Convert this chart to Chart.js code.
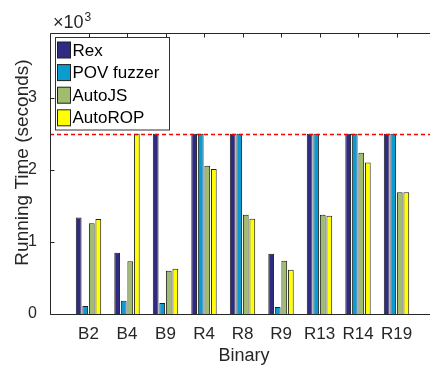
<!DOCTYPE html>
<html>
<head>
<meta charset="utf-8">
<script src="https://cdn.jsdelivr.net/npm/chart.js@4"></script>
<style>
  html, body { margin: 0; padding: 0; background: #fff; overflow: hidden; }
  #wrap { width: 430px; height: 370px; overflow: hidden; }
  canvas { display: block; }
</style>
</head>
<body>
<div id="wrap"><canvas id="runChart" width="440" height="370"></canvas></div>
<script>
// running time per binary, seconds (2500 = time limit hit)
const binaries = ['B2', 'B4', 'B9', 'R4', 'R8', 'R9', 'R13', 'R14', 'R19'];
const rexTime = [1340, 850, 2500, 2500, 2500, 836, 2500, 2500, 2500];
const povTime = [111, 185, 153, 2500, 2500, 98, 2500, 2500, 2500];
const autoJsTime = [1260, 733, 600, 2056, 1379, 738, 1379, 2237, 1690];
const autoRopTime = [1320, 2500, 627, 2014, 1323, 613, 1365, 2103, 1690];
const seriesNames = ['Rex', 'POV fuzzer', 'AutoJS', 'AutoROP'];
const seriesColors = ['#2f2a82', '#0c9bd0', '#a0bd6e', '#ffff00'];
const timeLimit = 2500;
const yTickValues = [0, 1000, 2000, 3000];
const yMax = 3900;

const FONT = "'Liberation Sans', Arial, Helvetica, sans-serif";
const INK = '#262626';

// pad the category axis by one empty slot on each side (like xlim [0 10])
const labels = [''].concat(binaries, ['']);
const pad = arr => [null].concat(arr, [null]);

const allSeries = [rexTime, povTime, autoJsTime, autoRopTime];
const datasets = allSeries.map((vals, i) => ({
    label: seriesNames[i],
    data: pad(vals),
    backgroundColor: seriesColors[i],
    borderColor: '#1e1e1e',
    borderWidth: 1,
    borderSkipped: 'bottom',
    categoryPercentage: 0.68,
    barPercentage: 0.88
}));

const decorations = {
    id: 'decorations',
    afterDatasetsDraw(chart) {
        const ctx = chart.ctx;
        const area = chart.chartArea;
        const x = chart.scales.x;
        const y = chart.scales.y;
        ctx.save();

        // time limit line
        const ly = Math.round(y.getPixelForValue(timeLimit)) + 0.5;
        ctx.strokeStyle = '#ff0000';
        ctx.lineWidth = 1.3;
        ctx.setLineDash([4, 3]);
        ctx.beginPath();
        ctx.moveTo(area.left, ly);
        ctx.lineTo(area.right, ly);
        ctx.stroke();
        ctx.setLineDash([]);

        // axes box (left, top, bottom) with inward ticks
        ctx.strokeStyle = INK;
        ctx.lineWidth = 1;
        const L = Math.round(area.left) + 0.5;
        const T = Math.round(area.top) + 0.5;
        const B = Math.round(area.bottom) + 0.5;
        ctx.beginPath();
        ctx.moveTo(area.right, T);
        ctx.lineTo(L, T);
        ctx.lineTo(L, B);
        ctx.lineTo(area.right, B);
        yTickValues.forEach(v => {
            const py = Math.round(y.getPixelForValue(v)) + 0.5;
            ctx.moveTo(L, py);
            ctx.lineTo(L + 4, py);
        });
        binaries.forEach((b, i) => {
            const px = Math.round(x.getPixelForValue(i + 1)) + 0.5;
            ctx.moveTo(px, T);
            ctx.lineTo(px, T + 4);
        });
        ctx.stroke();

        // legend box
        const lx = 55.5, ltop = 37.5, lw = 114, lh = 92.5;
        ctx.fillStyle = '#ffffff';
        ctx.fillRect(lx, ltop, lw, lh);
        ctx.strokeStyle = '#333';
        ctx.strokeRect(lx, ltop, lw, lh);
        ctx.font = '17px ' + FONT;
        ctx.textBaseline = 'middle';
        ctx.textAlign = 'left';
        chart.data.datasets.forEach((ds, i) => {
            const cy = 50 + i * 22.6;
            ctx.fillStyle = ds.backgroundColor;
            ctx.fillRect(57.5, cy - 8, 13, 16);
            ctx.strokeStyle = '#1e1e1e';
            ctx.strokeRect(57.5, cy - 8, 13, 16);
            ctx.fillStyle = '#000';
            ctx.fillText(ds.label, 72.5, cy + 1);
        });

        // exponent label
        ctx.fillStyle = INK;
        ctx.textBaseline = 'alphabetic';
        ctx.font = '18px ' + FONT;
        ctx.fillText('\u00d710', 53, 28);
        const w10 = ctx.measureText('\u00d710').width;
        ctx.font = '12px ' + FONT;
        ctx.fillText('3', 53 + w10 + 1, 21);

        // axis titles
        ctx.font = '18px ' + FONT;
        ctx.textAlign = 'center';
        ctx.fillText('Binary', 244, 361);
        ctx.translate(28, 162.5);
        ctx.rotate(-Math.PI / 2);
        ctx.font = '19px ' + FONT;
        ctx.fillText('Running Time (seconds)', 0, 0);

        ctx.restore();
    }
};

const chart = new Chart(document.getElementById('runChart'), {
    type: 'bar',
    data: { labels: labels, datasets: datasets },
    options: {
        responsive: false,
        animation: false,
        devicePixelRatio: 1,
        layout: { padding: { top: 33, right: 5, left: 0, bottom: 0 } },
        plugins: {
            legend: { display: false },
            tooltip: { enabled: false }
        },
        scales: {
            x: {
                offset: false,
                grid: { display: false },
                border: { display: false },
                ticks: {
                    color: INK,
                    font: { family: FONT, size: 17 },
                    padding: 2,
                    maxRotation: 0,
                    autoSkip: false
                },
                afterFit(scale) { scale.height = 56; }
            },
            y: {
                min: 0,
                max: yMax,
                grid: { display: false },
                border: { display: false },
                ticks: {
                    stepSize: 1000,
                    color: INK,
                    font: { family: FONT, size: 16 },
                    padding: 5,
                    callback: v => v / 1000
                },
                afterBuildTicks(scale) {
                    scale.ticks = yTickValues.map(v => ({ value: v }));
                },
                afterFit(scale) { scale.width = 50; }
            }
        }
    },
    plugins: [decorations]
});
</script>
</body>
</html>
